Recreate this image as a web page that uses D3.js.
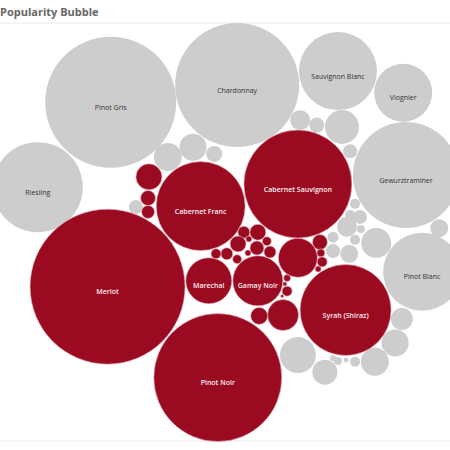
<!DOCTYPE html>
<html>
<head>
<meta charset="utf-8">
<script src="https://d3js.org/d3.v7.min.js"></script>
<style>
  html, body { margin: 0; padding: 0; background: #fff; overflow: hidden; }
  svg { display: block; }
</style>
</head>
<body>
<div id="bubble_chart"></div>
<script>
// Red wines, blank name = bubble without a label
const redWines = ["Merlot", "Pinot Noir", "Cabernet Sauvignon", "Cabernet Franc", "Syrah (Shiraz)", "Gamay Noir", "Marechal",
  "", "", "", "", "", "", "", "", "", "", "", "", "", "", "", "", "", "", "", "", "", "", "", "", ""];
const redPopularity = [987, 673, 479, 325.5, 340, 103, 87,
  62.5, 39.5, 11.9, 27.8, 9.2, 6.9, 9.2, 2.6, 4.1, 1.5, 2, 0.7, 4.1, 0.4,
  5.9, 10.5, 10.5, 8.1, 3.3, 5.9, 1.5, 1.5, 3.3, 5.9, 4.1, 0.7];
// Place on the map, as percent of the chart width / height
const redX = [23.9, 48.4, 66.2, 44.6, 76.8, 57.3, 46.4,
  66.2, 62.9, 57.6, 33.1, 32.9, 32.9, 71.1, 71.3, 71.6, 70.7, 63.8, 63.3, 63.8, 62.7,
  54.2, 57.3, 52.9, 57.1, 59.3, 60, 55.3, 55.1, 52.7, 50.4, 48, 59.6];
const redY = [63.7, 83.9, 40.9, 45.8, 68.9, 62.4, 62.4,
  57.3, 70, 70.2, 39.3, 44, 47.1, 53.8, 56.2, 58.2, 59.8, 61.8, 63.1, 64.7, 65.8,
  51.6, 51.6, 54.2, 55.1, 53.6, 56, 53.1, 56.2, 57.6, 56.4, 56.4, 51.6];

// Other wines
const greyWines = ["Pinot Gris", "Chardonnay", "Sauvignon Blanc", "Viognier", "Gewurztraminer", "Riesling", "Pinot Blanc",
  "", "", "", "", "", "", "", "", "", "", "", "", "", "", "", "", "", "", "", "", "", "", "", "", "", "", "", ""];
const greyPopularity = [705, 632, 250, 138, 462, 333, 250,
  32, 30, 10.5, 16.4, 9.2, 47.5, 8.1, 8.1, 4.1, 8.1, 4.1, 16.4, 2.6, 4.1, 37, 5, 8.1, 13.3,
  13.3, 19.9, 30, 32, 4.1, 1, 2.6, 1.5, 25.7, 53, 8.1];
const greyX = [24.6, 52.7, 75.1, 89.6, 90.2, 8.4, 93.8,
  37.3, 42.9, 47.6, 66.7, 70.4, 76, 77.8, 30.2, 78.9, 80, 77.8, 77.1, 80.2, 78.9, 83.6, 74, 74, 77.6,
  97.6, 89.3, 87.8, 83.3, 78.9, 76.9, 75.1, 74, 72.2, 66.2, 61.8];
const greyY = [22.7, 18.9, 15.8, 20.6, 38.9, 41.6, 60.4,
  34.9, 32.7, 34.2, 26.7, 27.8, 28.2, 33.6, 46, 45.3, 48.2, 47.8, 50.4, 50.9, 53.3, 54, 52.7, 55.8, 56.4,
  50.7, 70.9, 76.2, 80.4, 80.4, 80, 80.2, 79.6, 82.7, 78.9, 75.1];

const width = 450;
const height = 450;

const svg = d3.select("#bubble_chart")
  .append("svg")
  .attr("width", width)
  .attr("height", height);

const x = d3.scaleLinear().domain([0, 100]).range([0, width]);
const y = d3.scaleLinear().domain([0, 100]).range([0, height]);
const r = d3.scaleSqrt().domain([0, 1000]).range([0, 78]);

// Title and the two thin rules
svg.append("text")
  .attr("x", 0)
  .attr("y", 16)
  .style("font-family", "'Open Sans'")
  .style("font-weight", 700)
  .style("font-size", "11px")
  .style("fill", "#666")
  .text("Popularity Bubble");

svg.selectAll("line")
  .data([23, 441])
  .enter()
  .append("line")
  .attr("x1", 0)
  .attr("x2", width)
  .attr("y1", d => d)
  .attr("y2", d => d)
  .style("stroke", "#eaeaea")
  .style("stroke-width", 1);

const toRows = (names, pop, xs, ys, group) =>
  names.map((name, i) => ({ name, value: pop[i], x: xs[i], y: ys[i], group }));

const bubbles = toRows(greyWines, greyPopularity, greyX, greyY, "grey")
  .concat(toRows(redWines, redPopularity, redX, redY, "red"));

const color = d3.scaleOrdinal().domain(["red", "grey"]).range(["#9a0a20", "#cdcdcd"]);
const halo = d3.scaleOrdinal().domain(["red", "grey"]).range(["#eeb9c2", "none"]);
const labelColor = d3.scaleOrdinal().domain(["red", "grey"]).range(["#fff0f2", "#333"]);

svg.selectAll("circle")
  .data(bubbles)
  .enter()
  .append("circle")
  .attr("cx", d => x(d.x))
  .attr("cy", d => y(d.y))
  .attr("r", d => r(d.value))
  .style("fill", d => color(d.group))
  .style("stroke", d => halo(d.group))
  .style("stroke-width", 0.6);

// Labels only for the named wines, a bit under the bubble centre
svg.selectAll("text.label")
  .data(bubbles.filter(d => d.name))
  .enter()
  .append("text")
  .attr("class", "label")
  .attr("x", d => x(d.x))
  .attr("y", d => y(d.y) + 7.5)
  .style("text-anchor", "middle")
  .style("font-family", "'Open Sans'")
  .style("font-size", "7px")
  .style("font-weight", d => d.group === "red" ? 600 : 400)
  .style("fill", d => labelColor(d.group))
  .text(d => d.name);
</script>
</body>
</html>
